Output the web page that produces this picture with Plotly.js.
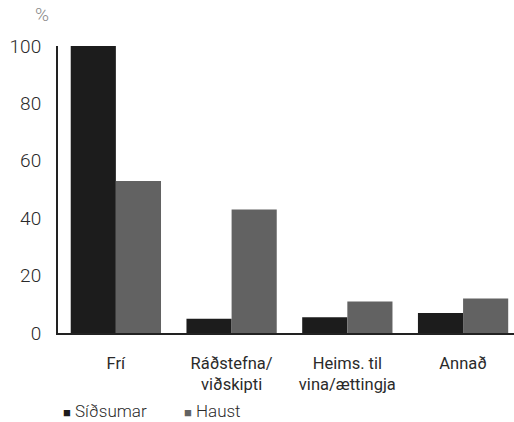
<!DOCTYPE html>
<html>
<head>
<meta charset="utf-8">
<script src="https://cdn.plot.ly/plotly-3.0.1.min.js"></script>
<style>html,body{margin:0;padding:0;background:#fff;}#chart{width:514px;height:422px;}</style>
</head>
<body>
<div id="chart"></div>
<script>
const categories = ["Frí", "Ráðstefna/<br>viðskipti", "Heims. til<br>vina/ættingja", "Annað"];
const seriesNames = ["Síðsumar", "Haust"];
const sidsumar = [100, 5, 5.5, 7];
const haust = [53, 43, 11, 12];
const yTicks = [0, 20, 40, 60, 80, 100];

const FONT = "Roboto, 'Liberation Sans', sans-serif";
const colors = ["#1c1c1c", "#626262"];
const TXT = "#2a2a2a";

const traces = [
  {type: "bar", name: seriesNames[0], x: categories, y: sidsumar, marker: {color: colors[0]}, showlegend: false},
  {type: "bar", name: seriesNames[1], x: categories, y: haust, marker: {color: colors[1]}, showlegend: false}
];

const legendX = [0.006, 0.272];
const legendAnn = seriesNames.map((n, i) => ({
  text: '<span style="color:' + colors[i] + ';font-size:13px">■</span> ' + n,
  xref: "paper", yref: "paper", x: legendX[i], y: -0.272, xanchor: "left", yanchor: "middle",
  showarrow: false, font: {family: FONT, size: 17, weight: 300, color: TXT}
}));

const layout = {
  width: 514, height: 422,
  margin: {l: 58, r: 0, t: 46, b: 89},
  paper_bgcolor: "#fff", plot_bgcolor: "#fff",
  barmode: "group", bargap: 0.22, bargroupgap: 0,
  font: {family: FONT, size: 17, color: TXT},
  xaxis: {
    type: "category", range: [-0.5, 3.44], showgrid: false, zeroline: false,
    showline: true, linecolor: "#222", linewidth: 2, ticks: "", ticklabelstandoff: 14,
    tickfont: {family: FONT, size: 16.5, weight: 400, color: TXT}, fixedrange: true
  },
  yaxis: {
    range: [0, 100], tickvals: yTicks, showgrid: false, zeroline: false,
    showline: true, linecolor: "#222", linewidth: 2, ticks: "", ticklabelstandoff: 11,
    tickfont: {family: FONT, size: 19, weight: 300, color: TXT}, fixedrange: true
  },
  showlegend: false,
  annotations: [{
    text: "%", xref: "paper", yref: "paper", x: -0.035, y: 1.11, xanchor: "center", yanchor: "middle",
    showarrow: false, font: {family: FONT, size: 19, weight: 300, color: "#8a8a8a"}
  }].concat(legendAnn)
};

Plotly.newPlot("chart", traces, layout, {displayModeBar: false, staticPlot: true});
</script>
</body>
</html>
